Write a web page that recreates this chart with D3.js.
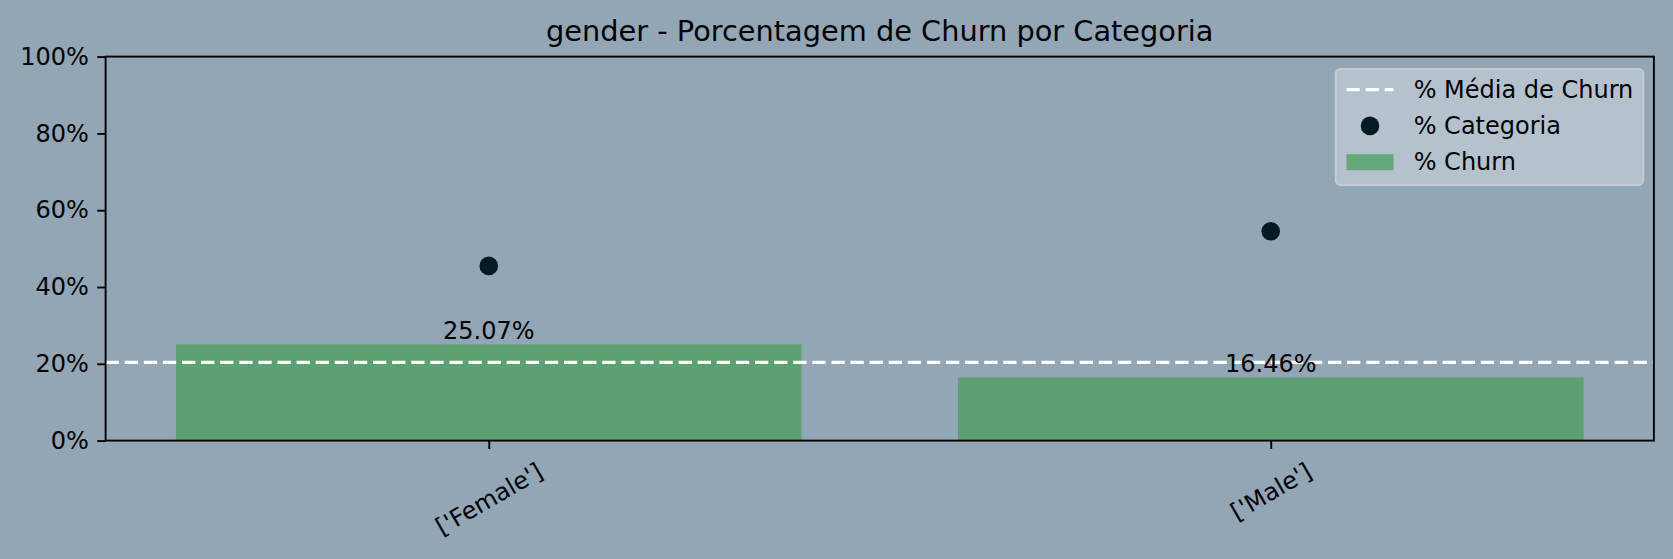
<!DOCTYPE html>
<html>
<head>
<meta charset="utf-8">
<script src="https://cdn.jsdelivr.net/npm/d3@7"></script>
<style>
html, body { margin: 0; padding: 0; background: #93a6b6; }
svg { display: block; font-family: "DejaVu Sans", sans-serif; }
</style>
</head>
<body>
<svg id="chart" width="1673" height="559"></svg>
<script>
// ---- data ----
const categories = ["['Female']", "['Male']"];
const churnPct = [25.07, 16.46];
const categoryPct = [45.5, 54.5];
const meanChurn = 20.37;
const yTicks = [0, 20, 40, 60, 80, 100];
const titleText = "gender - Porcentagem de Churn por Categoria";
const legendLabels = ["% Média de Churn", "% Categoria", "% Churn"];

// ---- layout ----
const W = 1673, H = 559;
const m = { left: 105.6, right: W - 1653.9, top: 56.6, bottom: H - 440.6 };
const innerW = W - m.left - m.right, innerH = H - m.top - m.bottom;
const bg = "#93a6b6";
const barColor = "#5da072";
const dotColor = "#021b23";
const tickFont = 24, titleFont = 28.8;
const tickLen = 8.4, tickPad = 8.4;

const svg = d3.select("#chart");
svg.append("rect").attr("width", W).attr("height", H).attr("fill", bg);
const g = svg.append("g").attr("transform", `translate(${m.left},${m.top})`);

const idx = categories.map((d, i) => i);
const x = d3.scaleLinear().domain([-0.49, 1.49]).range([0, innerW]);
const y = d3.scaleLinear().domain([0, 100]).range([innerH, 0]);
const barW = x(0.8) - x(0);

// bars
g.selectAll("rect.bar").data(idx).join("rect")
  .attr("class", "bar")
  .attr("x", i => x(i) - barW / 2)
  .attr("width", barW)
  .attr("y", i => y(churnPct[i]))
  .attr("height", i => y(0) - y(churnPct[i]))
  .attr("fill", barColor);

// mean line
g.append("line")
  .attr("x1", 0).attr("x2", innerW)
  .attr("y1", y(meanChurn)).attr("y2", y(meanChurn))
  .attr("stroke", "#ffffff").attr("stroke-width", 3.4)
  .attr("stroke-dasharray", "13.3,5.8");

// bar labels
g.selectAll("text.blab").data(idx).join("text")
  .attr("class", "blab")
  .attr("x", i => x(i))
  .attr("y", i => y(churnPct[i]) - 5)
  .attr("text-anchor", "middle")
  .attr("font-size", tickFont)
  .attr("fill", "#000")
  .text(i => churnPct[i].toFixed(2) + "%");

// dots
g.selectAll("circle.dot").data(idx).join("circle")
  .attr("class", "dot")
  .attr("cx", i => x(i))
  .attr("cy", i => y(categoryPct[i]))
  .attr("r", 9.3)
  .attr("fill", dotColor);

// y axis
const yAxis = d3.axisLeft(y).tickValues(yTicks).tickFormat(d => d + "%").tickSize(tickLen).tickPadding(tickPad);
const ya = g.append("g").call(yAxis);
ya.select(".domain").remove();
ya.selectAll(".tick line").attr("stroke", "#000").attr("stroke-width", 1.9);
ya.selectAll(".tick text").attr("font-size", tickFont).attr("font-family", "DejaVu Sans").attr("fill", "#000");

// x axis
const xAxis = d3.axisBottom(x).tickValues(idx).tickFormat(i => categories[i]).tickSize(tickLen).tickPadding(tickPad);
const xa = g.append("g").attr("transform", `translate(0,${innerH})`).call(xAxis);
xa.select(".domain").remove();
xa.selectAll(".tick line").attr("stroke", "#000").attr("stroke-width", 1.9);
xa.selectAll(".tick text")
  .attr("font-size", tickFont).attr("font-family", "DejaVu Sans").attr("fill", "#000")
  .attr("dy", null)
  .each(function () {
    const t = d3.select(this);
    t.attr("text-anchor", "middle").attr("dominant-baseline", "central").attr("y", 0);
    const w = this.getComputedTextLength();
    const h = tickFont * 1.17;
    const rh = w * Math.sin(Math.PI / 6) + h * Math.cos(Math.PI / 6);
    const cy = tickLen + tickPad + rh / 2;
    t.attr("transform", `translate(0,${cy}) rotate(-30)`);
  });

// frame
g.append("rect").attr("x", 0).attr("y", 0).attr("width", innerW).attr("height", innerH)
  .attr("fill", "none").attr("stroke", "#000").attr("stroke-width", 1.9);

// title
svg.append("text")
  .attr("x", m.left + innerW / 2).attr("y", 40.7)
  .attr("text-anchor", "middle").attr("font-size", titleFont).attr("fill", "#000")
  .text(titleText);

// legend
const lg = svg.append("g");
lg.append("rect")
  .attr("x", 1335.7).attr("y", 69).attr("width", 1643.3 - 1335.7).attr("height", 185 - 69)
  .attr("rx", 4.8).attr("ry", 4.8)
  .attr("fill", "#b5c2cd").attr("stroke", "#c5ccd3").attr("stroke-width", 1.9);
const rowsY = [89.6, 125.9, 162.2];
const hx0 = 1346.5, hx1 = 1393.5, tx = 1413.7;
lg.append("line").attr("x1", hx0).attr("x2", hx1).attr("y1", rowsY[0]).attr("y2", rowsY[0])
  .attr("stroke", "#fff").attr("stroke-width", 3.4).attr("stroke-dasharray", "13.3,5.8");
lg.append("circle").attr("cx", (hx0 + hx1) / 2).attr("cy", rowsY[1]).attr("r", 9.3).attr("fill", dotColor);
lg.append("rect").attr("x", hx0).attr("y", rowsY[2] - 8).attr("width", hx1 - hx0).attr("height", 16)
  .attr("fill", "#66a878");
lg.selectAll("text.leg").data(legendLabels).join("text")
  .attr("class", "leg")
  .attr("x", tx).attr("y", (d, i) => rowsY[i])
  .attr("dominant-baseline", "central")
  .attr("font-size", tickFont).attr("fill", "#000")
  .text(d => d);
</script>
</body>
</html>
